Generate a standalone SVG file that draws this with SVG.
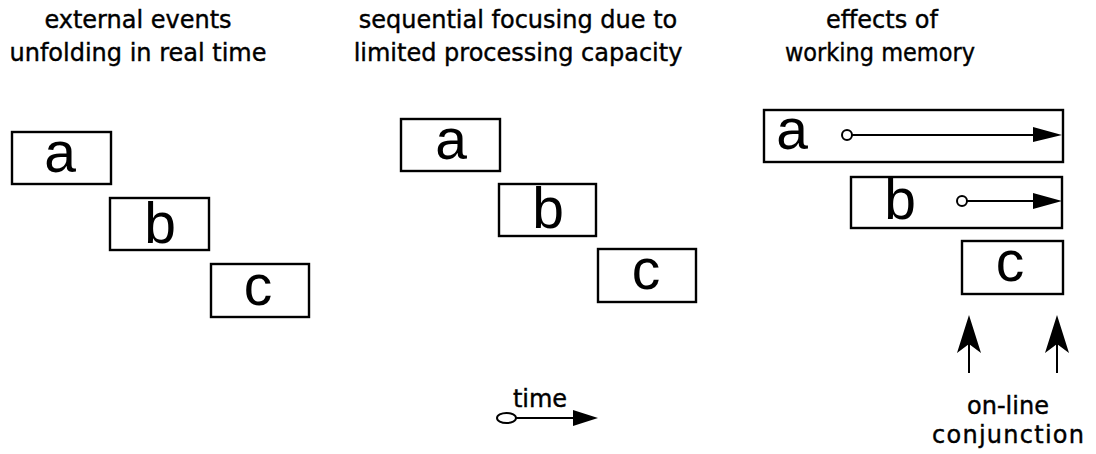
<svg xmlns="http://www.w3.org/2000/svg" width="1096" height="454" viewBox="0 0 1096 454">
<style>
.t{font-family:"DejaVu Sans",Verdana,sans-serif;font-size:24px;fill:#000;stroke:#000;stroke-width:0.4;text-anchor:middle}
.L{font-family:"Liberation Sans",Arial,sans-serif;font-size:57px;fill:#000;text-anchor:middle}
.box{fill:none;stroke:#000;stroke-width:2.4}
.ln{stroke:#000;stroke-width:2;fill:none}
.hd{fill:#000;stroke:none}
.dot{fill:#fff;stroke:#000;stroke-width:2}
</style>
<rect width="1096" height="454" fill="#fff"/>
<g id="titles">
<text class="t" x="138" y="28">external events</text>
<text class="t" x="138" y="61">unfolding in real time</text>
<text class="t" x="518" y="28">sequential focusing due to</text>
<text class="t" x="518" y="61">limited processing capacity</text>
<text class="t" x="882" y="28">effects of</text>
<text class="t" x="880" y="61" textLength="190" lengthAdjust="spacingAndGlyphs">working memory</text>
</g>
<g id="left-a"><rect class="box" x="12" y="132" width="99" height="52"/><text class="L" x="60" y="172">a</text></g>
<g id="left-b"><rect class="box" x="110" y="198" width="99" height="52"/><text class="L" x="160" y="243">b</text></g>
<g id="left-c"><rect class="box" x="211" y="264" width="98" height="53"/><text class="L" x="258" y="305">c</text></g>
<g id="mid-a"><rect class="box" x="401" y="119" width="99" height="52"/><text class="L" x="451" y="159">a</text></g>
<g id="mid-b"><rect class="box" x="499" y="184" width="97" height="52"/><text class="L" x="548" y="228">b</text></g>
<g id="mid-c"><rect class="box" x="598" y="249" width="98" height="53"/><text class="L" x="646" y="289">c</text></g>
<g id="right-a"><rect class="box" x="764" y="110" width="299" height="52"/><text class="L" x="792" y="149">a</text></g>
<g id="right-b"><rect class="box" x="851" y="177" width="211" height="51"/><text class="L" x="900" y="219">b</text></g>
<g id="right-c"><rect class="box" x="962" y="241" width="101" height="53"/><text class="L" x="1010" y="281">c</text></g>
<g id="time-legend">
<text class="t" x="540" y="407">time</text>
</g>
<g id="conjunction-label">
<text class="t" x="1008" y="414">on-line</text>
<text class="t" x="1008" y="443" textLength="152" lengthAdjust="spacing">conjunction</text>
</g>
<g id="connectors">
<line class="ln" x1="852" y1="135" x2="1040" y2="135"/>
<polygon class="hd" points="1033,127 1062,135 1033,142"/>
<circle class="dot" cx="847" cy="135" r="5"/>
<line class="ln" x1="967" y1="201" x2="1040" y2="201"/>
<polygon class="hd" points="1033,193 1062,201 1033,209"/>
<circle class="dot" cx="962" cy="201" r="5"/>
<line class="ln" x1="516" y1="418" x2="580" y2="418"/>
<polygon class="hd" points="573,410 598,418 573,426"/>
<ellipse class="dot" cx="506.5" cy="418" rx="9.5" ry="5"/>
<line class="ln" x1="969" y1="340" x2="969" y2="373"/>
<polygon class="hd" points="969,315 981,353 969,344 957,353"/>
<line class="ln" x1="1057" y1="340" x2="1057" y2="373"/>
<polygon class="hd" points="1057,315 1069,353 1057,344 1045,353"/>
</g>
</svg>
